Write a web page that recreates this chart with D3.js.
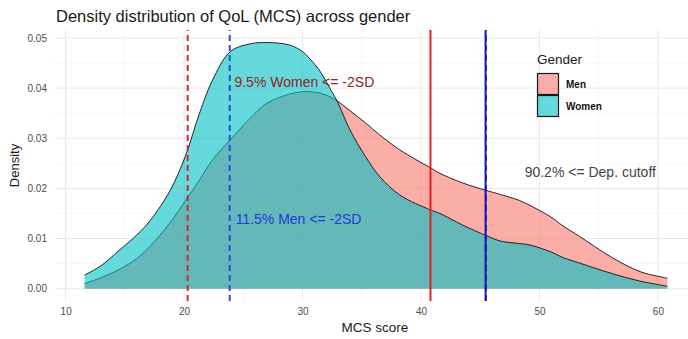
<!DOCTYPE html>
<html>
<head>
<meta charset="utf-8">
<script src="https://cdn.jsdelivr.net/npm/d3@7"></script>
<style>
  body { margin: 0; background: #fff; }
  svg { font-family: "Liberation Sans", Arial, sans-serif; }
</style>
</head>
<body>
<script>
var width = 688;
var height = 339;

// MCS score grid the two density curves were read on
var mcs = [11.6, 13.0, 14.5, 16.0, 17.1, 18.8, 20.1, 21.3, 22.4, 23.9, 25.5, 27.0,
  28.9, 30.0, 30.6, 31.5, 32.3, 32.9, 34.0, 35.3, 36.5, 38.2, 40.8, 41.6, 43.5,
  45.5, 46.7, 48.3, 49.2, 50.9, 52.0, 53.4, 56.0, 58.5, 60.8];

var menDensity = [0.0010, 0.0022, 0.0038, 0.0060, 0.0084, 0.0131, 0.0175, 0.0217,
  0.0257, 0.0297, 0.0338, 0.0370, 0.0388, 0.0393, 0.0393, 0.0390, 0.0383, 0.0375,
  0.0355, 0.0331, 0.0307, 0.0277, 0.0241, 0.0230, 0.0211, 0.0196, 0.0188, 0.0176,
  0.0166, 0.0144, 0.0125, 0.0104, 0.0064, 0.0034, 0.0021];

var womenDensity = [0.0027, 0.0046, 0.0076, 0.0107, 0.0135, 0.0195, 0.0264, 0.0350,
  0.0416, 0.0473, 0.0488, 0.0491, 0.0486, 0.0473, 0.0459, 0.0433, 0.0400, 0.0375,
  0.0317, 0.0264, 0.0224, 0.0187, 0.0157, 0.0150, 0.0127, 0.0106, 0.0095, 0.0090,
  0.0087, 0.0074, 0.0062, 0.0051, 0.0031, 0.0015, 0.0005];

var genders = ['Men', 'Women'];
var genderColors = ['#F8766D', '#00BFC4'];

var xTicks = [10, 20, 30, 40, 50, 60];
var xMinor = [15, 25, 35, 45, 55];
var yTicks = [0, 0.01, 0.02, 0.03, 0.04, 0.05];
var yMinor = [0.005, 0.015, 0.025, 0.035, 0.045];

// cutoff lines: value, colour, dashed?
var cutoffValues = [20.3, 23.85, 40.8, 45.45];
var cutoffColors = ['#c92a3a', '#2b4de0', '#e3211c', '#1010e8'];
var cutoffDashed = [true, true, false, false];

var notes = ['9.5% Women <= -2SD', '11.5% Men <= -2SD', '90.2% <= Dep. cutoff'];
var noteX = [24.25, 24.35, 48.75];
var noteY = [0.0412, 0.0139, 0.0233];
var noteColors = ['#8e2424', '#1b3bd6', '#444444'];

var x = d3.scaleLinear().domain([9.1, 63.3]).range([55, 697]);
var y = d3.scaleLinear().domain([-0.00246, 0.0516]).range([301, 30]);

var svg = d3.select('body').append('svg')
  .attr('width', width)
  .attr('height', height);

// grid
var grid = svg.append('g');
grid.selectAll('.vminor').data(xMinor).enter().append('line')
  .attr('x1', function(d) { return x(d); }).attr('x2', function(d) { return x(d); })
  .attr('y1', y.range()[0]).attr('y2', y.range()[1])
  .attr('stroke', '#f2f2f2').attr('stroke-width', 0.6);
grid.selectAll('.hminor').data(yMinor).enter().append('line')
  .attr('x1', x.range()[0]).attr('x2', x.range()[1])
  .attr('y1', function(d) { return y(d); }).attr('y2', function(d) { return y(d); })
  .attr('stroke', '#f2f2f2').attr('stroke-width', 0.6);
grid.selectAll('.vmajor').data(xTicks).enter().append('line')
  .attr('x1', function(d) { return x(d); }).attr('x2', function(d) { return x(d); })
  .attr('y1', y.range()[0]).attr('y2', y.range()[1])
  .attr('stroke', '#e8e8e8').attr('stroke-width', 1);
grid.selectAll('.hmajor').data(yTicks).enter().append('line')
  .attr('x1', x.range()[0]).attr('x2', x.range()[1])
  .attr('y1', function(d) { return y(d); }).attr('y2', function(d) { return y(d); })
  .attr('stroke', '#e8e8e8').attr('stroke-width', 1);

// densities
var series = [menDensity, womenDensity];

var area = d3.area()
  .x(function(d) { return x(d[0]); })
  .y0(y(0))
  .y1(function(d) { return y(d[1]); })
  .curve(d3.curveCatmullRom.alpha(0.5));

var line = d3.line()
  .x(function(d) { return x(d[0]); })
  .y(function(d) { return y(d[1]); })
  .curve(d3.curveCatmullRom.alpha(0.5));

series.forEach(function(vals, i) {
  var pts = mcs.map(function(m, j) { return [m, vals[j]]; });
  svg.append('path')
    .datum(pts)
    .attr('d', area)
    .attr('fill', genderColors[i])
    .attr('fill-opacity', 0.6);
  svg.append('path')
    .datum(pts)
    .attr('d', line)
    .attr('fill', 'none')
    .attr('stroke', '#111')
    .attr('stroke-width', 0.9);
});

// cutoff lines
cutoffValues.forEach(function(v, i) {
  svg.append('line')
    .attr('x1', x(v)).attr('x2', x(v))
    .attr('y1', y.range()[0]).attr('y2', y.range()[1])
    .attr('stroke', cutoffColors[i])
    .attr('stroke-width', 2)
    .attr('stroke-dasharray', cutoffDashed[i] ? '6,4' : null);
});
// the depression cutoff also carries a dashed overlay
svg.append('line')
  .attr('x1', x(cutoffValues[3]) + 0.5).attr('x2', x(cutoffValues[3]) + 0.5)
  .attr('y1', y.range()[0]).attr('y2', y.range()[1])
  .attr('stroke', '#1a1a7a')
  .attr('stroke-width', 1.4)
  .attr('stroke-dasharray', '6,4');

// annotations
notes.forEach(function(t, i) {
  svg.append('text')
    .attr('x', x(noteX[i]))
    .attr('y', y(noteY[i]))
    .attr('dy', '0.35em')
    .attr('fill', noteColors[i])
    .style('font-size', '14px')
    .text(t);
});

// axes
var yAxis = svg.append('g')
  .attr('transform', 'translate(' + (x.range()[0] - 1) + ',0)')
  .call(d3.axisLeft(y).tickValues(yTicks).tickSize(0).tickPadding(7).tickFormat(d3.format('.2f')));
var xAxis = svg.append('g')
  .attr('transform', 'translate(0,' + y.range()[0] + ')')
  .call(d3.axisBottom(x).tickValues(xTicks).tickSize(0).tickPadding(7));
[yAxis, xAxis].forEach(function(a) {
  a.select('.domain').remove();
  a.selectAll('text')
    .attr('fill', '#4d4d4d')
    .style('font-size', '10px')
    .style('font-family', '"Liberation Sans", Arial, sans-serif');
});

// titles
svg.append('text')
  .attr('x', 56).attr('y', 22)
  .attr('fill', '#1a1a1a')
  .style('font-size', '16.5px')
  .text('Density distribution of QoL (MCS) across gender');

svg.append('text')
  .attr('x', 375).attr('y', 332)
  .attr('text-anchor', 'middle')
  .attr('fill', '#1a1a1a')
  .style('font-size', '13.5px')
  .text('MCS score');

svg.append('text')
  .attr('transform', 'translate(19,' + ((y.range()[0] + y.range()[1]) / 2) + ') rotate(-90)')
  .attr('text-anchor', 'middle')
  .attr('fill', '#1a1a1a')
  .style('font-size', '13px')
  .text('Density');

// legend
var legend = svg.append('g').attr('transform', 'translate(537,50)');
legend.append('text')
  .attr('x', 0).attr('y', 14)
  .attr('fill', '#1a1a1a')
  .style('font-size', '13.5px')
  .text('Gender');
genders.forEach(function(g, i) {
  legend.append('rect')
    .attr('x', 0.5).attr('y', 23.5 + i * 22)
    .attr('width', 21).attr('height', 21)
    .attr('fill', genderColors[i])
    .attr('fill-opacity', 0.6)
    .attr('stroke', '#1a1a1a')
    .attr('stroke-width', 1.2);
  legend.append('text')
    .attr('x', 29).attr('y', 34 + i * 22)
    .attr('dy', '0.35em')
    .attr('fill', '#111')
    .style('font-size', '10px')
    .style('font-weight', 'bold')
    .text(g);
});
</script>
</body>
</html>
